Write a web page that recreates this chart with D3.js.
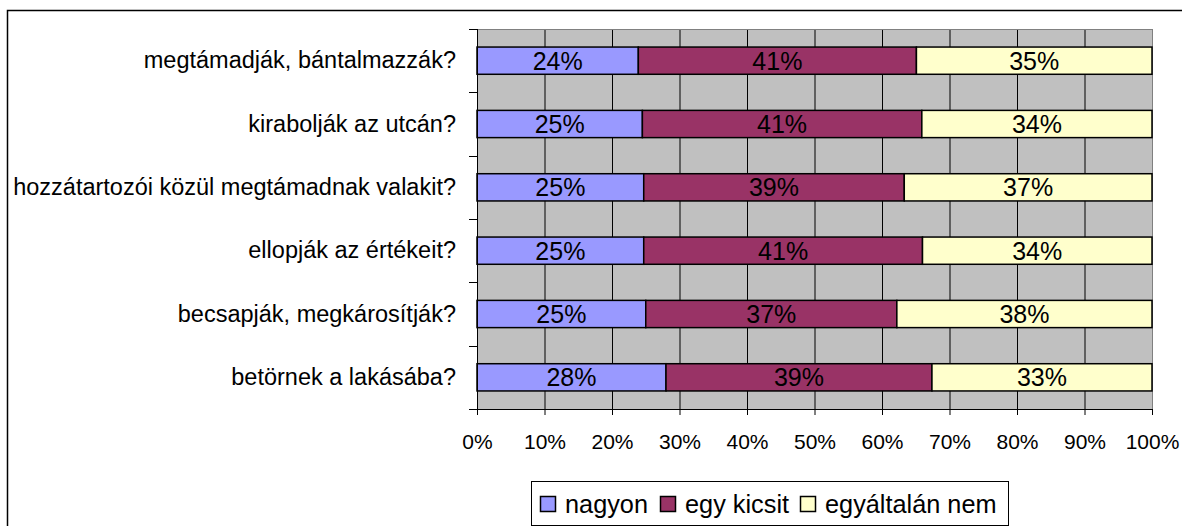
<!DOCTYPE html>
<html>
<head>
<meta charset="utf-8">
<script src="https://cdn.jsdelivr.net/npm/d3@7"></script>
<style>
  body { margin: 0; background: #fff; }
  text { font-family: "Liberation Sans", Arial, sans-serif; fill: #000; }
</style>
</head>
<body>
<div id="chart-area"></div>
<script>
// categories, top to bottom
let questions = [
  "megtámadják, bántalmazzák?",
  "kirabolják az utcán?",
  "hozzátartozói közül megtámadnak valakit?",
  "ellopják az értékeit?",
  "becsapják, megkárosítják?",
  "betörnek a lakásába?"
]
let seriesNames = ["nagyon", "egy kicsit", "egyáltalán nem"]
let nagyon = [23.9, 24.5, 24.7, 24.7, 25.0, 28.0]
let egyKicsit = [41.2, 41.4, 38.6, 41.3, 37.2, 39.4]
let egyaltalanNem = [34.9, 34.1, 36.7, 34.0, 37.8, 32.6]
let tickValues = [0, 10, 20, 30, 40, 50, 60, 70, 80, 90, 100]
let colors = ["#9999ff", "#993366", "#ffffcc"]

let width = 1182
let height = 526
let margin = { top: 29, right: 30, bottom: 117, left: 477 }
let plotWidth = width - margin.left - margin.right
let plotHeight = height - margin.top - margin.bottom

let svg = d3.select("#chart-area").append("svg")
  .attr("width", width)
  .attr("height", height)

// outer chart frame (only top and left edge visible)
svg.append("path")
  .attr("d", "M7.5,526V10.5H1182")
  .attr("fill", "none")
  .attr("stroke", "#000")
  .attr("stroke-width", 1.5)

let g = svg.append("g")
  .attr("transform", "translate(" + margin.left + ", " + margin.top + ")")

let x = d3.scaleLinear()
  .domain([0, 100])
  .range([0, plotWidth])

let y = d3.scaleBand()
  .domain(questions)
  .range([0, plotHeight])
  .paddingInner(0.57)
  .paddingOuter(0.285)

let rows = questions.map((q, i) => {
  return { question: q, values: [nagyon[i], egyKicsit[i], egyaltalanNem[i]] }
})

let stack = d3.stack().keys([0, 1, 2]).value((d, k) => d.values[k])
let layers = stack(rows)

// plot background
g.append("rect")
  .attr("width", plotWidth)
  .attr("height", plotHeight)
  .attr("fill", "#c0c0c0")

// vertical gridlines
g.selectAll(".grid")
  .data(tickValues.slice(1))
  .enter()
  .append("line")
    .attr("x1", (d) => x(d) + 0.5)
    .attr("x2", (d) => x(d) + 0.5)
    .attr("y1", 0)
    .attr("y2", plotHeight)
    .attr("stroke", (d) => d === 100 ? "#808080" : "#000")
    .attr("stroke-width", 1)

g.append("line")
  .attr("x1", 0).attr("x2", plotWidth)
  .attr("y1", 0.5).attr("y2", 0.5)
  .attr("stroke", "#808080")

// bars
layers.forEach((layer, k) => {
  g.selectAll(".bar" + k)
    .data(layer)
    .enter()
    .append("rect")
      .attr("x", (d) => x(d[0]))
      .attr("y", (d) => y(d.data.question))
      .attr("width", (d) => x(d[1]) - x(d[0]))
      .attr("height", y.bandwidth())
      .attr("fill", colors[k])
      .attr("stroke", "#000")
      .attr("stroke-width", 1.5)

  g.selectAll(".label" + k)
    .data(layer)
    .enter()
    .append("text")
      .attr("x", (d) => (x(d[0]) + x(d[1])) / 2)
      .attr("y", (d) => y(d.data.question) + y.bandwidth() / 2)
      .attr("dy", "0.36em")
      .attr("text-anchor", "middle")
      .style("font-size", "25px")
      .text((d) => Math.round(d[1] - d[0]) + "%")
})

// axes
let yAxis = g.append("g")
  .call(d3.axisLeft(y).tickSize(0).tickPadding(21))
yAxis.select(".domain").remove()
yAxis.selectAll("text")
  .style("font-size", "23.5px")
  .style("font-family", "Liberation Sans, Arial, sans-serif")

// category separator ticks on the left
g.selectAll(".ytick")
  .data(d3.range(questions.length + 1))
  .enter()
  .append("line")
    .attr("x1", -8)
    .attr("x2", 0)
    .attr("y1", (d) => Math.round(d * plotHeight / questions.length) + 0.5)
    .attr("y2", (d) => Math.round(d * plotHeight / questions.length) + 0.5)
    .attr("stroke", "#000")

g.append("line")
  .attr("x1", 0.5).attr("x2", 0.5)
  .attr("y1", 0).attr("y2", plotHeight)
  .attr("stroke", "#000")

let xAxis = g.append("g")
  .attr("transform", "translate(0, " + plotHeight + ")")
  .call(d3.axisBottom(x).tickValues(tickValues).tickSize(6).tickPadding(19)
    .tickFormat((d) => d + "%"))
xAxis.select(".domain").attr("stroke", "#000")
xAxis.selectAll("line").attr("stroke", "#000")
xAxis.selectAll("text")
  .style("font-size", "21px")
  .style("font-family", "Liberation Sans, Arial, sans-serif")

// legend
let legend = svg.append("g")
  .attr("transform", "translate(531, 481)")

legend.append("rect")
  .attr("x", 0.5)
  .attr("y", 0.5)
  .attr("width", 477)
  .attr("height", 44)
  .attr("fill", "#fff")
  .attr("stroke", "#000")

let legendX = [9, 129, 269]
seriesNames.forEach((name, i) => {
  legend.append("rect")
    .attr("x", legendX[i] + 0.5)
    .attr("y", 15.5)
    .attr("width", 15)
    .attr("height", 15)
    .attr("fill", colors[i])
    .attr("stroke", "#000")
    .attr("stroke-width", 1.5)
  legend.append("text")
    .attr("x", legendX[i] + 25)
    .attr("y", 23)
    .attr("dy", "0.36em")
    .style("font-size", "25.3px")
    .text(name)
})
</script>
</body>
</html>
